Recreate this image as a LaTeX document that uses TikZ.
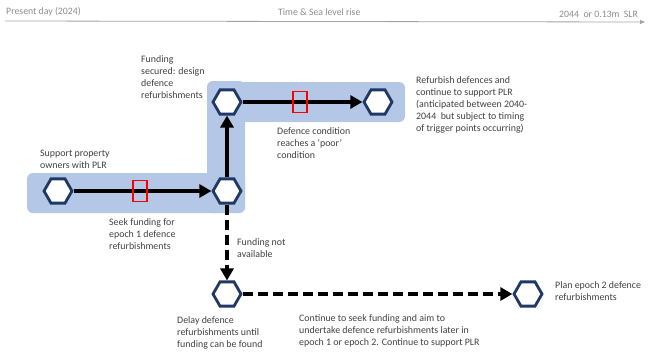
\documentclass[tikz,border=0pt]{standalone}
\usepackage{fontspec}
\setmainfont{Carlito}
\usepackage{tikz}
\usetikzlibrary{arrows.meta,shapes.geometric}
\definecolor{bandblue}{HTML}{B4C7E7}
\definecolor{hexnavy}{HTML}{1F3864}
\definecolor{notegrey}{HTML}{404040}
\definecolor{timegrey}{HTML}{8C8C8C}
\tikzset{
    band/.style={fill=bandblue, rounded corners=6pt},
    hexa/.style={regular polygon, regular polygon sides=6, draw=hexnavy, fill=white,
        line width=2.8pt, minimum size=28pt, inner sep=0pt},
    flow/.style={line width=3.8pt, -{Triangle[length=12pt,width=13pt]}},
    flowdash/.style={flow, dash pattern=on 10pt off 5pt},
    redmark/.style={draw=red, line width=1.2pt, minimum width=14pt, minimum height=21pt, inner sep=0pt},
    note/.style={anchor=north west, align=left, inner sep=0pt, text=notegrey,
        font=\fontsize{9.9}{12}\selectfont},
    timenote/.style={anchor=north west, inner sep=0pt, text=timegrey,
        font=\fontsize{9.8}{11}\selectfont}
}

\begin{document}
\begin{tikzpicture}[>=Stealth, x=1pt, y=-1pt]
        \useasboundingbox (0,0) rectangle (652,354);
        % timeline
        \coordinate (t0) at (5,21);
        \coordinate (t1) at (645,22);
        \draw[timegrey!80, line width=0.8pt, -{Triangle[length=5pt,width=4pt]}] (t0) -- (t1);
        \node[timenote] (today) at (6,7) {Present day (2024)};
        \node[timenote] (rise) at (278,8) {Time \& Sea level rise};
        \node[timenote] (slr) at (559,11) {2044~ or 0.13m~ SLR};
        % shaded route
        \fill[band] (27,173) rectangle (245,213);
        \fill[band] (207,81) rectangle (245,213);
        \fill[band] (207,82) rectangle (405,122);
        % decision points
        \node[hexa] (start) at (58,191) {};
        \node[hexa] (seek) at (227,191) {};
        \node[hexa] (secured) at (227,102) {};
        \node[hexa] (refurb) at (378,102) {};
        \node[hexa] (delay) at (227,294) {};
        \node[hexa] (plan) at (528,294) {};
        \draw[flow] (start) -- (seek);
        \draw[flow] (seek) -- (secured);
        \draw[flow] (secured) -- (refurb);
        \draw[flowdash] (seek) -- (delay);
        \draw[flowdash] (delay) -- (plan);
        % trigger points
        \node[redmark] (trigA) at (140,191) {};
        \node[redmark] (trigB) at (300,102) {};
        % labels
        \node[note] (lblstart) at (40,150) {Support property\\owners with PLR};
        \node[note] (lblseek) at (109,218) {Seek funding for\\epoch 1 defence\\refurbishments};
        \node[note] (lblsecured) at (141,55) {Funding\\secured: design\\defence\\refurbishments};
        \node[note] (lblpoor) at (277,127) {Defence condition\\reaches a ‘poor’\\condition};
        \node[note] (lblrefurb) at (416,76) {Refurbish defences and\\continue to support PLR\\(anticipated between 2040-\\2044~ but subject to timing\\of trigger points occurring)};
        \node[note] (lblnofund) at (237,238) {Funding not\\available};
        \node[note] (lbldelay) at (177,316) {Delay defence\\refurbishments until\\funding can be found};
        \node[note] (lblcont) at (299,314) {Continue to seek funding and aim to\\undertake defence refurbishments later in\\epoch 1 or epoch 2. Continue to support PLR};
        \node[note] (lblplan) at (555,281) {Plan epoch 2 defence\\refurbishments};
    \end{tikzpicture}
\end{document}
